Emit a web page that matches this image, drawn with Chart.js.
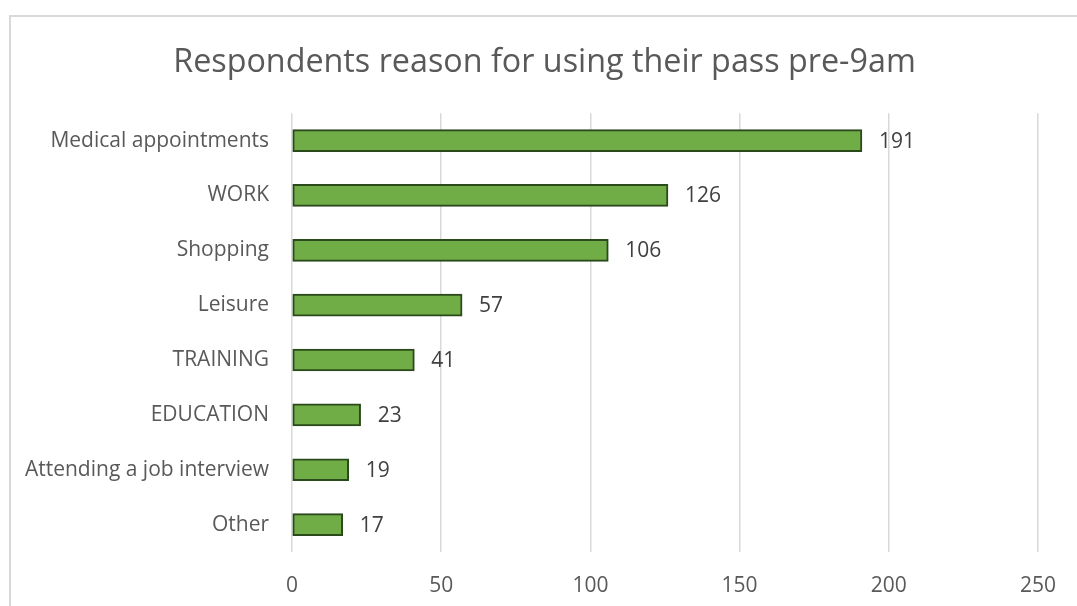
<!DOCTYPE html>
<html>
<head>
<meta charset="utf-8">
<script src="https://cdn.jsdelivr.net/npm/chart.js@4/dist/chart.umd.min.js"></script>
<style>
html,body{margin:0;padding:0;background:#fff;}
#wrap{position:relative;width:1077px;height:606px;}
</style>
</head>
<body>
<div id="wrap"><canvas id="c" width="1077" height="606"></canvas></div>
<script>
const categories = ["Medical appointments","WORK","Shopping","Leisure","TRAINING","EDUCATION","Attending a job interview","Other"];
const values = [191,126,106,57,41,23,19,17];
const xTicks = [0,50,100,150,200,250];
const titleText = "Respondents reason for using their pass pre-9am";

const FONT = "'Open Sans', 'Noto Sans', sans-serif";

const frame = {
  id: 'frame',
  beforeDraw(chart){
    const ctx = chart.ctx;
    ctx.save();
    ctx.strokeStyle = '#d9d9d9';
    ctx.lineWidth = 2;
    ctx.strokeRect(10, 16, 1200, 800);
    ctx.restore();
  }
};
const titleShift = {
  id: 'titleShift',
  afterLayout(chart){
    const tb = chart.titleBlock;
    if (tb) { tb.left = 12; tb.right = 1077; tb.width = 1065; }
  }
};
const dataLabels = {
  id: 'dataLabels',
  afterDatasetsDraw(chart){
    const ctx = chart.ctx;
    const meta = chart.getDatasetMeta(0);
    ctx.save();
    ctx.fillStyle = '#404040';
    ctx.font = "21px " + FONT;
    ctx.textBaseline = 'middle';
    ctx.textAlign = 'left';
    meta.data.forEach((el, i) => {
      ctx.fillText(String(values[i]), el.x + 17, el.y + 1);
    });
    ctx.restore();
  }
};

new Chart(document.getElementById('c'), {
  type: 'bar',
  data: {
    labels: categories,
    datasets: [{
      data: values,
      backgroundColor: '#70ad47',
      borderColor: '#2b4a1b',
      borderWidth: 2,
      borderSkipped: false,
      barThickness: 22,
      categoryPercentage: 1
    }]
  },
  options: {
    indexAxis: 'y',
    responsive: false,
    animation: false,
    devicePixelRatio: 1,
    layout: { padding: { left: 0, right: 37, top: 0, bottom: 0 } },
    plugins: {
      legend: { display: false },
      tooltip: { enabled: false },
      title: {
        display: true,
        text: titleText,
        color: '#595959',
        font: { family: FONT, size: 32.3, weight: 'normal', lineHeight: 1.2 },
        padding: { top: 43.5, bottom: 30.9 }
      }
    },
    scales: {
      x: {
        min: 0, max: 250,
        afterBuildTicks(scale){ scale.ticks = xTicks.map(v => ({ value: v })); },
        afterFit(scale){ scale.height = 54; },
        grid: { color: '#d9d9d9', lineWidth: 1.5, drawTicks: false },
        border: { display: false },
        ticks: { color: '#595959', font: { family: FONT, size: 21 }, padding: 21, maxRotation: 0 }
      },
      y: {
        afterFit(scale){ scale.width = 292; },
        grid: { display: false, drawTicks: false },
        border: { display: false },
        ticks: { color: '#595959', font: { family: FONT, size: 21 }, padding: 23 }
      }
    }
  },
  plugins: [frame, titleShift, dataLabels]
});
</script>
</body>
</html>
